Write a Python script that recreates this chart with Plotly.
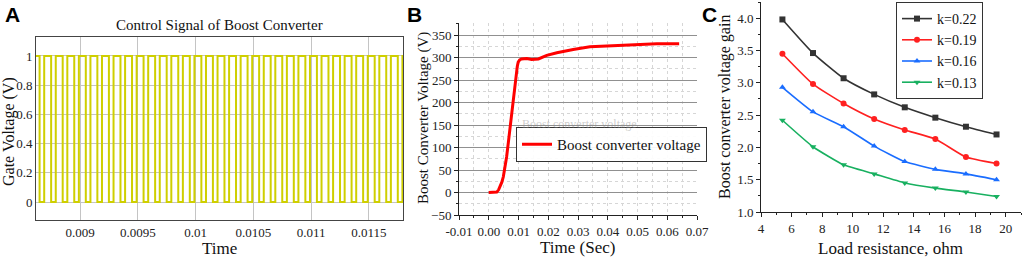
import plotly.graph_objects as go

# ---------------- Panel A: PWM gate signal ----------------
pwm_rise_times = [0.00859, 0.00869, 0.00879, 0.00889, 0.00899, 0.00909, 0.00919, 0.00929,
                  0.00939, 0.00949, 0.00959, 0.00969, 0.00979, 0.00989, 0.00999, 0.01009,
                  0.01019, 0.01029, 0.01039, 0.01049, 0.01059, 0.01069, 0.01079, 0.01089,
                  0.01099, 0.01109, 0.01119, 0.01129, 0.01139, 0.01149, 0.01159, 0.01169,
                  0.01179]
pwm_high_width = 0.00006
pwm_low_level = 0
pwm_high_level = 1
a_xticks = [0.009, 0.0095, 0.01, 0.0105, 0.011, 0.0115]
a_xticklabels = ["0.009", "0.0095", "0.01", "0.0105", "0.011", "0.0115"]
a_yticks = [0, 0.2, 0.4, 0.6, 0.8, 1]
a_yticklabels = ["0", "0.2", "0.4", "0.6", "0.8", "1"]

# ---------------- Panel B: boost converter voltage ----------------
b_time = [0.0, 0.0015, 0.0027, 0.0033, 0.0038, 0.0044, 0.0049, 0.0055, 0.006, 0.0066,
          0.0072, 0.0078, 0.0083, 0.0088, 0.0092, 0.0096, 0.0099, 0.0104, 0.011, 0.0128,
          0.0144, 0.0167, 0.0195, 0.0229, 0.0284, 0.034, 0.0397, 0.0452, 0.0509, 0.0565,
          0.064]
b_volt = [0, 0, 1, 6, 13, 23, 35, 56, 79, 112,
          146, 180, 213, 243, 265, 281, 290, 295, 297, 298,
          296, 297, 305, 311, 318, 324, 326, 328, 330, 331,
          331]
b_xticks = [-0.01, 0.0, 0.01, 0.02, 0.03, 0.04, 0.05, 0.06, 0.07]
b_xticklabels = ["-0.01", "0.00", "0.01", "0.02", "0.03", "0.04", "0.05", "0.06", "0.07"]
b_yticks = [-50, 0, 50, 100, 150, 200, 250, 300, 350]

# ---------------- Panel C: voltage gain vs load ----------------
load_res = [5.4, 7.4, 9.4, 11.4, 13.4, 15.4, 17.4, 19.4]
gain_k022 = [3.98, 3.46, 3.07, 2.82, 2.62, 2.46, 2.32, 2.20]
gain_k019 = [3.45, 2.98, 2.68, 2.44, 2.27, 2.13, 1.85, 1.75]
gain_k016 = [2.93, 2.55, 2.32, 2.02, 1.78, 1.66, 1.59, 1.50]
gain_k013 = [2.42, 2.01, 1.73, 1.59, 1.45, 1.37, 1.31, 1.24]
c_names = ["k=0.22", "k=0.19", "k=0.16", "k=0.13"]
c_colors = ["#333333", "#ff2020", "#1a6dff", "#18b060"]
c_symbols = ["square", "circle", "triangle-up", "triangle-down"]

SERIF = "Liberation Serif, Times New Roman, serif"
SANS = "Liberation Sans, Arial, sans-serif"
W, H = 1024, 260

def px(x):
    return x / W

def py(y):
    return 1 - y / H

# build the step waveform from the edge times
wx = [0.0085]
wy = [pwm_low_level]
for r in pwm_rise_times:
    f = r + pwm_high_width
    wx += [r, r, f, f]
    wy += [pwm_low_level, pwm_high_level, pwm_high_level, pwm_low_level]

fig = go.Figure()

fig.add_trace(go.Scatter(x=wx, y=wy, mode="lines", line=dict(color="#cfcf00", width=2),
                         xaxis="x", yaxis="y", showlegend=False, hoverinfo="skip"))

fig.add_trace(go.Scatter(x=b_time, y=b_volt, mode="lines", name="Boost converter voltage",
                         line=dict(color="#ff0000", width=3),
                         xaxis="x2", yaxis="y2", legend="legend"))

for vals, name, col, sym in zip([gain_k022, gain_k019, gain_k016, gain_k013],
                                c_names, c_colors, c_symbols):
    fig.add_trace(go.Scatter(x=load_res, y=vals, mode="lines+markers", name=name,
                             line=dict(color=col, width=1.6, shape="spline", smoothing=0.5),
                             marker=dict(symbol=sym, size=6, color=col),
                             xaxis="x3", yaxis="y3", legend="legend2"))

tickfont = dict(family=SERIF, size=13, color="#222")

fig.update_layout(
    template="none",
    width=W, height=H,
    margin=dict(l=0, r=0, t=0, b=0, autoexpand=False),
    paper_bgcolor="white", plot_bgcolor="white",
    showlegend=True,
    xaxis=dict(domain=[px(36), px(403)], range=[0.008619, 0.011795], automargin=False,
               tickvals=a_xticks, ticktext=a_xticklabels, tickfont=tickfont,
               showgrid=True, gridcolor="#c4c4c4", gridwidth=1,
               showline=True, linecolor="#444", linewidth=1, mirror=True,
               ticks="", zeroline=False, anchor="y"),
    yaxis=dict(domain=[py(220), py(37)], range=[-0.123, 1.13], automargin=False,
               tickvals=a_yticks, ticktext=a_yticklabels, tickfont=tickfont,
               showgrid=True, gridcolor="#c4c4c4", gridwidth=1,
               showline=True, linecolor="#444", linewidth=1, mirror=True,
               ticks="", zeroline=False, anchor="x"),
    xaxis2=dict(domain=[px(459), px(697)], range=[-0.01, 0.07], automargin=False,
                tickvals=b_xticks, ticktext=b_xticklabels, tickfont=tickfont,
                showgrid=True, gridcolor="#d6d6d6", gridwidth=1, griddash="dot",
                minor=dict(dtick=0.005, tick0=0, showgrid=True, gridcolor="#d6d6d6", griddash="dot",
                           ticks="outside", ticklen=2, tickcolor="#222"),
                showline=True, linecolor="#222", linewidth=1,
                ticks="outside", ticklen=4, tickcolor="#222", zeroline=False, anchor="y2"),
    yaxis2=dict(domain=[py(215), py(23)], range=[-50, 377], automargin=False,
                tickvals=b_yticks, tickfont=tickfont,
                showgrid=True, gridcolor="#909090", gridwidth=1,
                minor=dict(dtick=25, tick0=0, showgrid=True, gridcolor="#d6d6d6", griddash="dot",
                           ticks="outside", ticklen=2, tickcolor="#222"),
                showline=True, linecolor="#222", linewidth=1,
                ticks="outside", ticklen=4, tickcolor="#222", zeroline=False, anchor="x2"),
    xaxis3=dict(domain=[px(761), px(1021)], range=[4, 21], automargin=False,
                tickvals=[4, 6, 8, 10, 12, 14, 16, 18, 20], tickfont=tickfont,
                showgrid=False, showline=True, linecolor="#222", linewidth=1,
                ticks="outside", ticklen=4, tickcolor="#222",
                minor=dict(dtick=1, tick0=4, ticks="outside", ticklen=2, tickcolor="#222"),
                zeroline=False, anchor="y3"),
    yaxis3=dict(domain=[py(212), py(2)], range=[1.0, 4.25], automargin=False,
                tickvals=[1.0, 1.5, 2.0, 2.5, 3.0, 3.5, 4.0],
                ticktext=["1.0", "1.5", "2.0", "2.5", "3.0", "3.5", "4.0"], tickfont=tickfont,
                showgrid=False, showline=True, linecolor="#222", linewidth=1,
                ticks="outside", ticklen=4, tickcolor="#222",
                minor=dict(dtick=0.25, tick0=1.0, ticks="outside", ticklen=2, tickcolor="#222"),
                zeroline=False, anchor="x3"),
    legend=dict(x=px(516), y=py(127), xanchor="left", yanchor="top",
                bgcolor="rgba(255,255,255,0.92)", bordercolor="#333", borderwidth=1,
                font=dict(family=SERIF, size=15, color="#111"),
                itemwidth=30, tracegroupgap=0),
    legend2=dict(x=px(896), y=py(2), xanchor="left", yanchor="top",
                 bgcolor="white", bordercolor="#333", borderwidth=1,
                 font=dict(family=SERIF, size=14, color="#111"),
                 itemwidth=30, tracegroupgap=0),
)

annots = [
    dict(text="<b>A</b>", x=px(3), y=py(1), font=dict(family=SANS, size=21, color="#000"),
         xanchor="left", yanchor="top"),
    dict(text="<b>B</b>", x=px(405), y=py(1), font=dict(family=SANS, size=21, color="#000"),
         xanchor="left", yanchor="top"),
    dict(text="<b>C</b>", x=px(700), y=py(1), font=dict(family=SANS, size=21, color="#000"),
         xanchor="left", yanchor="top"),
    dict(text="Control Signal of Boost Converter", x=px(219), y=py(25),
         font=dict(family=SERIF, size=15, color="#111"), xanchor="center", yanchor="middle"),
    dict(text="Gate Voltage (V)", x=px(9), y=py(132), textangle=-90,
         font=dict(family=SERIF, size=16, color="#111"), xanchor="center", yanchor="middle"),
    dict(text="Time", x=px(219), y=py(248),
         font=dict(family=SERIF, size=17, color="#111"), xanchor="center", yanchor="middle"),
    dict(text="Boost Converter Voltage (V)", x=px(424), y=py(118), textangle=-90,
         font=dict(family=SERIF, size=15, color="#111"), xanchor="center", yanchor="middle"),
    dict(text="Time (Sec)", x=px(577), y=py(247),
         font=dict(family=SERIF, size=17, color="#111"), xanchor="center", yanchor="middle"),
    dict(text="Boost converter voltage gain", x=px(725), y=py(107), textangle=-90,
         font=dict(family=SERIF, size=16, color="#111"), xanchor="center", yanchor="middle"),
    dict(text="Load resistance, ohm", x=px(890), y=py(248),
         font=dict(family=SERIF, size=17, color="#111"), xanchor="center", yanchor="middle"),
    dict(text="Boost converter voltage", x=px(520), y=py(124),
         font=dict(family=SERIF, size=12, color="rgba(140,140,140,0.45)"),
         xanchor="left", yanchor="middle"),
]
for a in annots:
    a.update(xref="paper", yref="paper", showarrow=False)
    fig.add_annotation(**a)

fig.write_html("out.html", config={"displayModeBar": False},
               post_script="document.body.style.margin='0';document.body.style.overflow='hidden';")
